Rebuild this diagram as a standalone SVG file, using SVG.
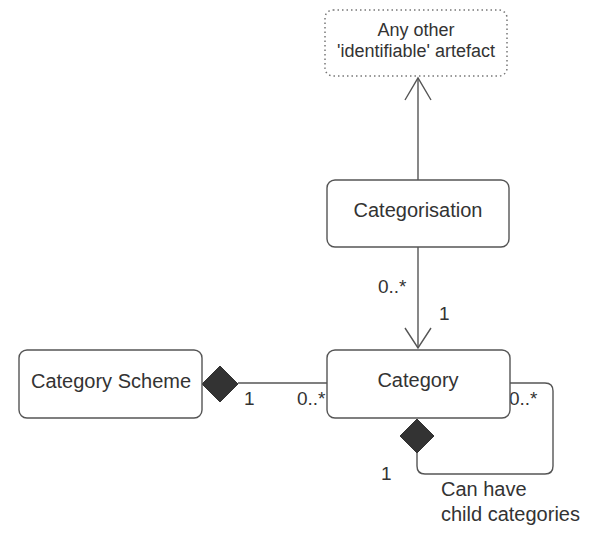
<svg xmlns="http://www.w3.org/2000/svg" width="590" height="534" viewBox="0 0 590 534">
<style>
.box{fill:#fff;stroke:#555;stroke-width:1.4}
.dot{fill:#fff;stroke:#777;stroke-width:1.5;stroke-dasharray:1.5 3}
text{font-family:"Liberation Sans",Arial,sans-serif;fill:#333}
.t{font-size:20px;text-anchor:middle}
.s{font-size:18px;text-anchor:middle}
.l{font-size:19px}
.c{font-size:20px}
.ln{fill:none;stroke:#555;stroke-width:1.4}
.dia{fill:#333;stroke:#333;stroke-width:1}
</style>
<rect width="590" height="534" fill="#fff"/>
<g id="connectors">
<line class="ln" x1="418" y1="180" x2="418" y2="78"/>
<polyline class="ln" points="405,100 418,78 431,100"/>
<line class="ln" x1="418" y1="247" x2="418" y2="348"/>
<polyline class="ln" points="405,328 418,348 431,328"/>
<line class="ln" x1="238" y1="383" x2="327" y2="383"/>
<polygon class="dia" points="202,384 220,366 238,384 220,402"/>
<path class="ln" d="M510,383 H545 Q553,383 553,391 V466 Q553,474 545,474 H425 Q417,474 417,466 V453"/>
<polygon class="dia" points="417,419 434,436 417,453 400,436"/>
<text class="l" x="378" y="293">0..*</text>
<text class="l" x="439" y="320">1</text>
<text class="l" x="244" y="405">1</text>
<text class="l" x="297" y="405">0..*</text>
<text class="l" x="509" y="405">0..*</text>
<text class="l" x="381" y="480">1</text>
<text class="c" x="441" y="496">Can have</text>
<text class="c" x="441" y="521">child categories</text>
</g>
<g id="artefact">
<rect class="dot" x="325" y="10" width="182" height="66" rx="8"/>
<text class="s" x="416" y="36">Any other</text>
<text class="s" x="416" y="57">'identifiable' artefact</text>
</g>
<g id="categorisation">
<rect class="box" x="327" y="180" width="182" height="67" rx="8"/>
<text class="t" x="418" y="217">Categorisation</text>
</g>
<g id="category">
<rect class="box" x="327" y="350" width="183" height="68" rx="8"/>
<text class="t" x="418" y="387">Category</text>
</g>
<g id="categoryScheme">
<rect class="box" x="19" y="350" width="183" height="68" rx="8"/>
<text class="t" x="111" y="388">Category Scheme</text>
</g>
</svg>
